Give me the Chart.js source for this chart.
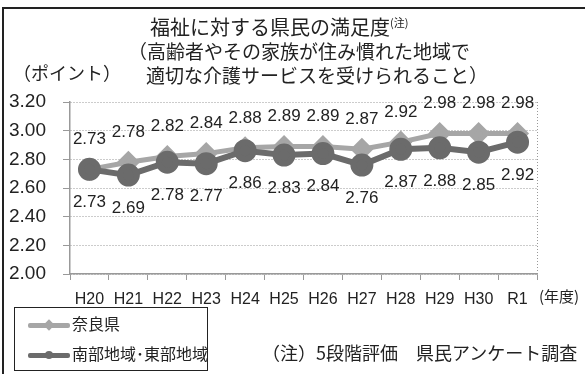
<!DOCTYPE html>
<html>
<head>
<meta charset="utf-8">
<script src="https://cdn.jsdelivr.net/npm/chart.js@4"></script>
<style>
  body { margin: 0; background: #fff; }
  #wrap { position: relative; width: 585px; height: 374px; overflow: hidden; font-family: "Noto Sans CJK JP", sans-serif; color: #222; }
  #frame { position: absolute; left: 2px; top: 7px; width: 600px; height: 400px; border-top: 2px solid #222; border-left: 2px solid #222; }
  canvas { position: absolute; left: 0; top: 0; }
  .t { position: absolute; white-space: nowrap; font-size: 19px; line-height: 1; }
  .t sup { font-size: 11px; vertical-align: 8px; }
  #legend { position: absolute; left: 14px; top: 307px; width: 192px; height: 62px; border: 1.5px solid #222; }
  .item { position: absolute; left: 13px; font-size: 16px; line-height: 1; white-space: nowrap; }
  .sw { display: inline-block; width: 42px; height: 5px; vertical-align: middle; position: relative; margin-right: 2px; border-radius: 2px; }
  .mk { position: absolute; left: 17px; top: -2px; width: 8px; height: 8px; }
</style>
</head>
<body>
<div id="wrap">
  <div id="frame"></div>
  <canvas id="c" width="585" height="374"></canvas>
  <div class="t" style="left:150px;top:17px;font-size:20px;">福祉に対する県民の満足度<sup>(注)</sup></div>
  <div class="t" style="left:128px;top:41px;">（高齢者やその家族が住み慣れた地域で</div>
  <div class="t" style="left:146px;top:65px;">適切な介護サービスを受けられること）</div>
  <div class="t" style="left:13px;top:63px;font-size:18px;">（ポイント）</div>
  <div class="t" style="left:539px;top:288px;font-size:15px;">(年度)</div>
  <div class="t" style="left:262px;top:343px;font-size:18px;">（注）5段階評価　県民アンケート調査</div>
  <div id="legend">
    <div class="item" style="top:7px;"><span class="sw" style="background:#a6a6a6"><span class="mk" style="background:#a6a6a6;transform:rotate(45deg);"></span></span>奈良県</div>
    <div class="item" style="top:37px;"><span class="sw" style="background:#6b6b6b"><span class="mk" style="background:#6b6b6b;border-radius:50%;"></span></span>南部地域･東部地域</div>
  </div>
</div>
<script>
// categories and series
const years = ['H20', 'H21', 'H22', 'H23', 'H24', 'H25', 'H26', 'H27', 'H28', 'H29', 'H30', 'R1'];
const naraValues = [2.73, 2.78, 2.82, 2.84, 2.88, 2.89, 2.89, 2.87, 2.92, 2.98, 2.98, 2.98];
const southEastValues = [2.73, 2.69, 2.78, 2.77, 2.86, 2.83, 2.84, 2.76, 2.87, 2.88, 2.85, 2.92];
const yTicks = [2.00, 2.20, 2.40, 2.60, 2.80, 3.00, 3.20];

// value labels above / below the points
const valueLabels = {
    id: 'valueLabels',
    afterDatasetsDraw(chart) {
        const ctx = chart.ctx;
        ctx.save();
        ctx.font = '17px "Liberation Sans", Arial, sans-serif';
        ctx.fillStyle = '#222';
        ctx.textAlign = 'center';
        ctx.textBaseline = 'middle';
        chart.data.datasets.forEach((ds, i) => {
            const meta = chart.getDatasetMeta(i);
            const off = ds.labelOffset;
            meta.data.forEach((pt, j) => {
                ctx.fillText(ds.data[j].toFixed(2), pt.x, pt.y + off);
            });
        });
        ctx.restore();
    }
};

// dotted line on the right edge of the plot
const rightEdge = {
    id: 'rightEdge',
    beforeDatasetsDraw(chart) {
        const a = chart.chartArea;
        const ctx = chart.ctx;
        ctx.save();
        ctx.strokeStyle = '#999';
        ctx.lineWidth = 1;
        ctx.setLineDash([1, 2]);
        ctx.beginPath();
        ctx.moveTo(a.right + 0.5, a.top);
        ctx.lineTo(a.right + 0.5, a.bottom);
        ctx.stroke();
        ctx.restore();
    }
};

new Chart(document.getElementById('c'), {
    type: 'line',
    data: {
        labels: years,
        datasets: [
            {
                label: '南部地域・東部地域',
                data: southEastValues,
                borderColor: '#6b6b6b',
                backgroundColor: '#6b6b6b',
                borderWidth: 6,
                pointStyle: 'circle',
                pointRadius: 8.5,
                pointHoverRadius: 8.5,
                labelOffset: 33,
                order: 1
            },
            {
                label: '奈良県',
                data: naraValues,
                borderColor: '#a6a6a6',
                backgroundColor: '#a6a6a6',
                borderWidth: 5,
                pointStyle: 'rectRot',
                pointRadius: 8,
                pointHoverRadius: 8,
                labelOffset: -30,
                order: 2
            }
        ]
    },
    options: {
        responsive: false,
        animation: false,
        events: [],
        layout: { padding: { left: 0, top: 102, right: 48, bottom: 70 } },
        plugins: { legend: { display: false }, tooltip: { enabled: false } },
        scales: {
            x: {
                offset: true,
                afterFit: s => { s.height = 30; },
                grid: { offset: true, drawOnChartArea: false, drawTicks: true, tickLength: 6, color: '#999', tickBorderDash: [] },
                border: { color: '#999', width: 1.5 },
                ticks: { color: '#222', font: { family: '"Liberation Sans", Arial, sans-serif', size: 16 }, padding: 10, maxRotation: 0 }
            },
            y: {
                min: 2,
                max: 3.2,
                afterFit: s => { s.width = 70; },
                afterBuildTicks: s => { s.ticks = yTicks.map(v => ({ value: v })); },
                grid: { color: '#999', tickLength: 7, tickBorderDash: [] },
                border: { color: '#999', width: 1.5, dash: [1, 2] },
                ticks: {
                    color: '#222',
                    font: { family: '"Liberation Sans", Arial, sans-serif', size: 19 },
                    padding: 17,
                    callback: v => v.toFixed(2)
                }
            }
        }
    },
    plugins: [valueLabels, rightEdge]
});
</script>
</body>
</html>
